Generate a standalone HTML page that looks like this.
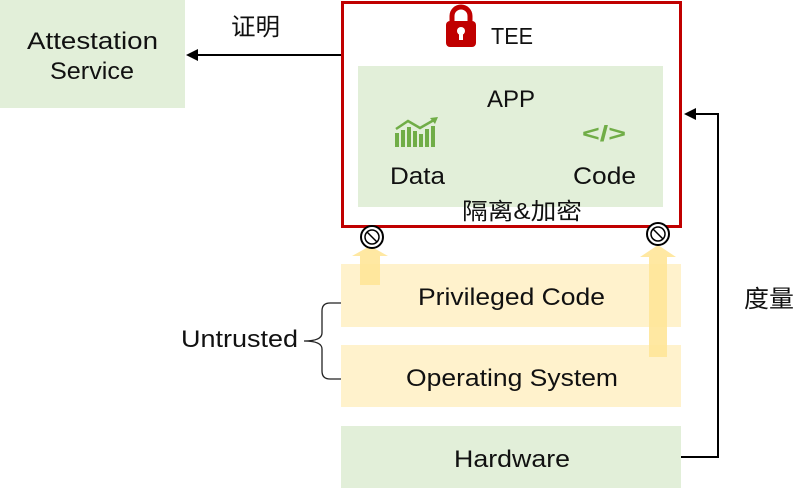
<!DOCTYPE html>
<html><head><meta charset="utf-8"><style>
html,body{margin:0;padding:0;background:#fff;}
svg{display:block;font-family:"Liberation Sans","Noto Sans CJK SC",sans-serif;}
</style></head><body>
<svg width="809" height="489" viewBox="0 0 809 489" xmlns="http://www.w3.org/2000/svg">
<rect x="0" y="0" width="185" height="108" fill="#e2efd9"/>
<text x="27" y="49" font-size="24" textLength="131" lengthAdjust="spacingAndGlyphs" fill="#111">Attestation</text>
<text x="50" y="79" font-size="24" textLength="84" lengthAdjust="spacingAndGlyphs" fill="#111">Service</text>
<line x1="341" y1="55" x2="196" y2="55" stroke="#000" stroke-width="2"/>
<polygon points="186,55 198,49 198,61" fill="#000"/>
<text x="231" y="35" font-size="24" textLength="49" lengthAdjust="spacingAndGlyphs" fill="#111">证明</text>

<rect x="342.5" y="2.5" width="338" height="224" fill="#fff" stroke="#c00000" stroke-width="3"/>
<!-- lock -->
<path d="M452 22 v-6 a9 9 0 0 1 18 0 v6" fill="none" stroke="#c00000" stroke-width="5"/>
<rect x="446" y="21" width="30" height="26" rx="4" fill="#c00000"/>
<circle cx="461" cy="31" r="4" fill="#fff"/>
<rect x="459" y="31" width="4" height="9" fill="#fff"/>
<text x="491" y="44" font-size="23" textLength="42" lengthAdjust="spacingAndGlyphs" fill="#111">TEE</text>

<rect x="358" y="66" width="305" height="141" fill="#e2efd9"/>
<text x="487" y="107" font-size="24" textLength="48" lengthAdjust="spacingAndGlyphs" fill="#111">APP</text>
<!-- chart icon -->
<g fill="#70ad47">
<rect x="395" y="133" width="4" height="14"/><rect x="401" y="130" width="4" height="17"/>
<rect x="407" y="127" width="4" height="20"/><rect x="413" y="131" width="4" height="16"/>
<rect x="419" y="134" width="4" height="13"/><rect x="425" y="129" width="4" height="18"/>
<rect x="431" y="126" width="4" height="21"/>
</g>
<polyline points="396,129 408,121 420,128 434,120" fill="none" stroke="#70ad47" stroke-width="2.5"/>
<polygon points="438,117 430,118 435,124" fill="#70ad47"/>
<text x="582" y="141" font-size="22" font-weight="bold" textLength="44" lengthAdjust="spacingAndGlyphs" fill="#70ad47">&lt;/&gt;</text>
<text x="390" y="184" font-size="24" textLength="55" lengthAdjust="spacingAndGlyphs" fill="#111">Data</text>
<text x="573" y="184" font-size="24" textLength="63" lengthAdjust="spacingAndGlyphs" fill="#111">Code</text>
<text x="462" y="219" font-size="23" textLength="120" lengthAdjust="spacingAndGlyphs" fill="#111">隔离&amp;加密</text>

<rect x="341" y="264" width="340" height="63" fill="#fff2cc"/>
<rect x="341" y="345" width="340" height="62" fill="#fff2cc"/>
<rect x="341" y="426" width="340" height="62" fill="#e2efd9"/>
<text x="418" y="305" font-size="24" textLength="187" lengthAdjust="spacingAndGlyphs" fill="#111">Privileged Code</text>
<text x="406" y="386" font-size="24" textLength="212" lengthAdjust="spacingAndGlyphs" fill="#111">Operating System</text>
<text x="454" y="467" font-size="24" textLength="116" lengthAdjust="spacingAndGlyphs" fill="#111">Hardware</text>

<!-- yellow arrows -->
<g fill="#ffe699" opacity="0.9">
<rect x="360" y="255" width="20" height="30"/>
<polygon points="352,256 370,246 388,256"/>
<rect x="649" y="256" width="18" height="101"/>
<polygon points="640,257 658,245 676,257"/>
</g>
<!-- prohibited -->
<g fill="#fff" stroke="#000" stroke-width="2">
<circle cx="372" cy="237" r="11"/><circle cx="658" cy="234" r="11"/>
</g>
<g fill="none" stroke="#000" stroke-width="1.5">
<circle cx="372" cy="237" r="7"/><line x1="367" y1="232" x2="377" y2="242"/>
<circle cx="658" cy="234" r="7"/><line x1="653" y1="229" x2="663" y2="239"/>
</g>

<!-- brace -->
<path d="M341 303 H330 Q322 303 322 311 V333 Q322 341 304 341 Q322 341 322 349 V371 Q322 379 330 379 H341" fill="none" stroke="#222" stroke-width="1.3"/>
<text x="181" y="347" font-size="24" textLength="117" lengthAdjust="spacingAndGlyphs" fill="#111">Untrusted</text>

<!-- measure -->
<polyline points="681,457 718,457 718,114 695,114" fill="none" stroke="#000" stroke-width="2"/>
<polygon points="684,114 696,108 696,120" fill="#000"/>
<text x="744" y="307" font-size="24" textLength="50" lengthAdjust="spacingAndGlyphs" fill="#111">度量</text>
</svg>
</body></html>
